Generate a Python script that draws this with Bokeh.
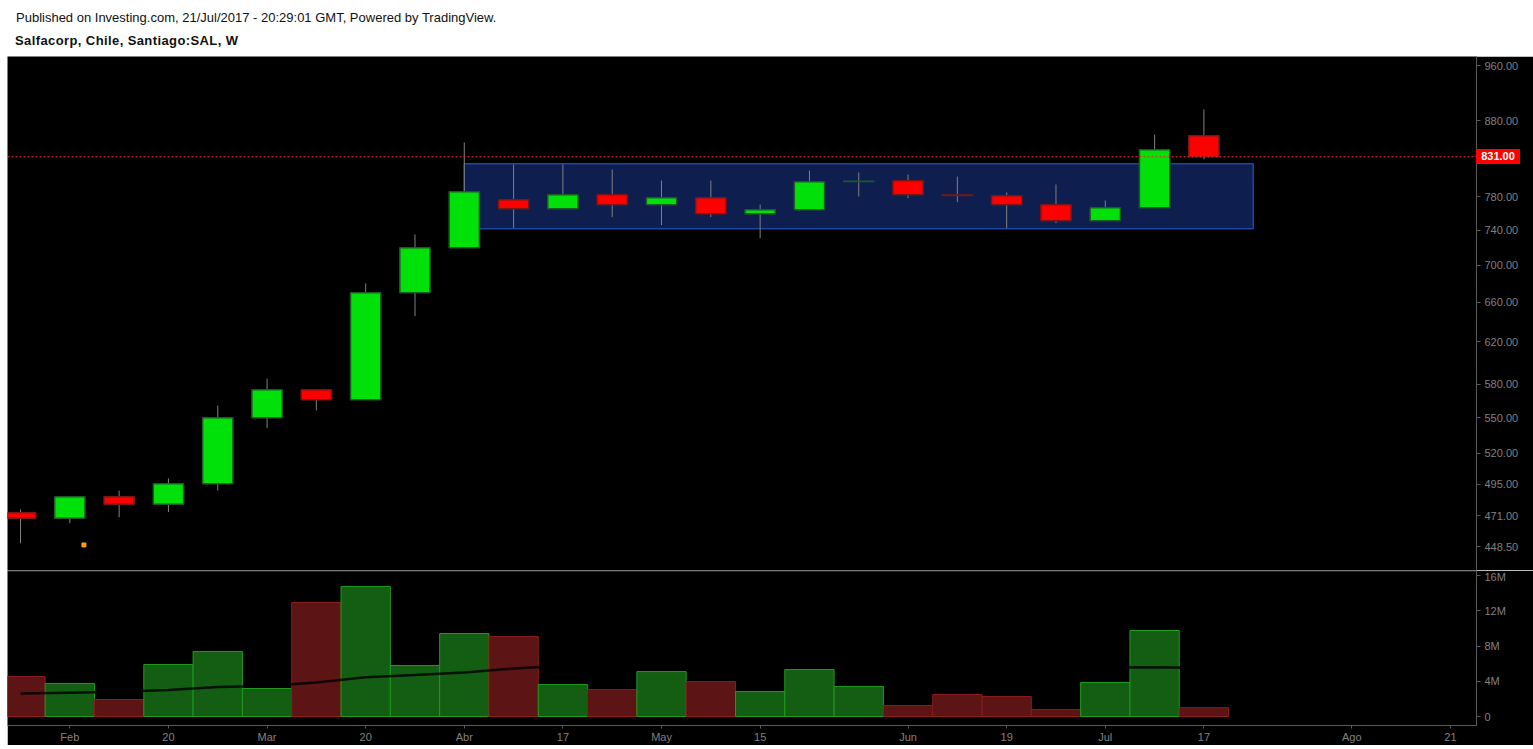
import math
import pandas as pd
from bokeh.plotting import figure
from bokeh.layouts import column, row
from bokeh.models import (Div, Range1d, FixedTicker, PrintfTickFormatter, Span,
                          ColumnDataSource, Spacer)
from bokeh.embed import file_html
from bokeh.resources import INLINE

# ---------------- data ----------------
dates = ["2017-01-30", "2017-02-06", "2017-02-13", "2017-02-20", "2017-02-27",
         "2017-03-06", "2017-03-13", "2017-03-20", "2017-03-27", "2017-04-03",
         "2017-04-10", "2017-04-17", "2017-04-24", "2017-05-01", "2017-05-08",
         "2017-05-15", "2017-05-22", "2017-05-29", "2017-06-05", "2017-06-12",
         "2017-06-19", "2017-06-26", "2017-07-03", "2017-07-10", "2017-07-17"]
opens = [473.1, 469.1, 485.2, 479.5, 495.3, 549.8, 574.7, 565.7, 670.1, 719.4,
         776.2, 765.3, 782.4, 770.1, 778.7, 759.3, 764.1, 799.0, 799.9, 782.2,
         781.2, 770.1, 750.9, 766.5, 858.9]
highs = [475.6, 485.2, 490.0, 499.5, 560.6, 585.0, 574.7, 680.0, 734.8, 849.9,
         820.8, 820.8, 814.3, 800.3, 800.3, 770.5, 813.1, 810.5, 807.9, 805.3,
         785.3, 795.3, 775.4, 860.7, 895.5]
lows = [450.8, 465.4, 469.8, 473.6, 490.0, 540.9, 556.2, 565.7, 645.7, 719.4,
        742.2, 765.3, 755.2, 745.7, 755.2, 730.5, 764.1, 780.3, 778.2, 773.3,
        742.2, 748.1, 750.9, 766.5, 827.7]
closes = [469.1, 485.2, 479.5, 495.3, 549.8, 574.7, 565.7, 670.1, 719.4, 786.1,
          765.3, 782.4, 770.1, 778.7, 759.3, 764.1, 798.7, 799.5, 782.4, 781.6,
          770.1, 750.9, 766.5, 840.1, 831.0]
volumes_m = [4.54, 3.75, 1.93, 5.90, 7.38, 3.18, 12.94, 14.76, 5.79, 9.42,
             9.08, 3.63, 3.06, 5.10, 3.97, 2.84, 5.33, 3.40, 1.25, 2.50,
             2.27, 0.80, 3.86, 9.76, 1.00]
vol_ma_m = [2.6, 2.7, 2.8, 3.0, 3.35, 3.45, 3.85, 4.45, 4.7, 5.0,
            5.45, 5.75, 5.75, 5.75, 5.75, 5.75, 5.75, 5.7, 5.6, 5.6,
            5.6, 5.6, 5.55, 5.6, 5.5]

x_tick_dates = ["2017-02-06", "2017-02-20", "2017-03-06", "2017-03-20", "2017-04-03",
                "2017-04-17", "2017-05-01", "2017-05-15", "2017-06-05", "2017-06-19",
                "2017-07-03", "2017-07-17", "2017-08-07", "2017-08-21"]
x_tick_labels = ["Feb", "20", "Mar", "20", "Abr", "17", "May", "15", "Jun", "19",
                 "Jul", "17", "Ago", "21"]
price_ticks = [448.5, 471, 495, 520, 550, 580, 620, 660, 700, 740, 780, 880, 960]
vol_ticks = [0, 4, 8, 12, 16]
vol_tick_labels = ["0", "4M", "8M", "12M", "16M"]

box_start, box_end = "2017-04-03", "2017-07-24"
box_low, box_high = 741.4, 821.8
event_dates = ["2017-02-08"]
event_prices = [449.6]

header_line1 = "Published on Investing.com, 21/Jul/2017 - 20:29:01 GMT, Powered by TradingView."
header_line2 = "Salfacorp, Chile, Santiago:SAL, W"

# ---------------- helpers ----------------
t0 = pd.Timestamp(dates[0])
def day(d):
    return (pd.Timestamp(d) - t0).total_seconds() / 86400.0

xs = [day(d) for d in dates]
up = [c >= o for o, c in zip(opens, closes)]
GREEN, GREEN_EDGE = "#00e10a", "#1f5a24"
RED, RED_EDGE = "#ff0000", "#7a1616"

src = ColumnDataSource(dict(
    x=xs, open=opens, high=highs, low=lows, close=closes,
    top=[max(o, c) for o, c in zip(opens, closes)],
    bottom=[min(o, c) for o, c in zip(opens, closes)],
    fill=[GREEN if u else RED for u in up],
    edge=[GREEN_EDGE if u else RED_EDGE for u in up],
    vol=volumes_m, ma=vol_ma_m,
    vfill=["#135e12" if u else "#5c1414" for u in up],
    vedge=["#1f9a1f" if u else "#8a1c1c" for u in up],
))

PAGE_W = 1533
LEFT_GAP = 7
W = PAGE_W - LEFT_GAP          # 1526
RB = 57
HEADER_H = 56
PRICE_H = 514
FONT = "Liberation Sans"
AX = "#5a5a5a"
LBL = "#808080"
x_range = Range1d(-1.85, 206.7)
price_range = Range1d(431.8, 973.8)

# last-price tag position in page pixels, derived from the log price scale
_lo, _hi = math.log(price_range.start), math.log(price_range.end)
tag_cy = HEADER_H + (_hi - math.log(closes[-1])) / (_hi - _lo) * PRICE_H
tag_h, tag_w = 15, 44
tag_left = LEFT_GAP + (W - RB)
tag_top = round(tag_cy - tag_h / 2)

# ---------------- header ----------------
header = Div(text=(
    f'<div style="position:relative;width:{PAGE_W}px;height:{HEADER_H}px;background:#fff;'
    f'font-family:\'Liberation Sans\',Arial,sans-serif;color:#111;overflow:visible;">'
    f'<div style="position:absolute;left:16px;top:9px;font-size:13px;white-space:nowrap;">{header_line1}</div>'
    f'<div style="position:absolute;left:15px;top:32px;font-size:13px;font-weight:bold;'
    f'letter-spacing:0.4px;white-space:nowrap;">{header_line2}</div>'
    f'<div style="position:absolute;left:{tag_left}px;top:{tag_top}px;width:{tag_w}px;'
    f'height:{tag_h}px;line-height:{tag_h}px;background:#ff0000;color:#fff;'
    f'font-size:11px;font-weight:bold;text-align:center;z-index:50;">{closes[-1]:.2f}</div>'
    f'</div>'),
    width=PAGE_W, height=HEADER_H, margin=0, styles={"overflow": "visible", "z-index": "50"})

# ---------------- price panel ----------------
p = figure(width=W, height=PRICE_H, y_axis_type="log", x_range=x_range,
           y_range=price_range, output_backend="svg", toolbar_location=None,
           y_axis_location="right", x_axis_location=None,
           background_fill_color="black", border_fill_color="black",
           min_border_left=0, min_border_right=RB, min_border_top=0, min_border_bottom=0,
           outline_line_color=None, margin=0)
p.grid.visible = False
ya = p.yaxis[0]
ya.ticker = FixedTicker(ticks=price_ticks)
ya.formatter = PrintfTickFormatter(format="%.2f")
ya.axis_line_color = AX
ya.major_tick_line_color = AX
ya.minor_tick_line_color = None
ya.major_tick_out = 4
ya.major_tick_in = 0
ya.major_label_standoff = 4
ya.major_label_text_color = LBL
ya.major_label_text_font = FONT
ya.major_label_text_font_size = "11px"

p.quad(left=[day(box_start)], right=[day(box_end)], bottom=[box_low], top=[box_high],
       fill_color="#0d1e4f", line_color="#1f44a8", line_width=1.5)
p.segment(x0="x", y0="low", x1="x", y1="high", source=src, line_color="#808080", line_width=1)
p.vbar(x="x", width=4.3, top="top", bottom="bottom", source=src,
       fill_color="fill", line_color="edge", line_width=1.5)
p.scatter(x=[day(d) for d in event_dates], y=event_prices, marker="square", size=4,
          color="#ff9a00")
p.add_layout(Span(location=closes[-1], dimension="width", line_color="#ff2222",
                  line_dash="2 2", line_width=1))

# ---------------- volume panel ----------------
v = figure(width=W, height=175, x_range=x_range, y_range=Range1d(-1.02, 16.57),
           output_backend="svg", toolbar_location=None, y_axis_location="right",
           background_fill_color="black", border_fill_color="black",
           min_border_left=0, min_border_right=RB, min_border_top=0, min_border_bottom=20,
           outline_line_color=None, margin=0)
v.grid.visible = False
v.vbar(x="x", width=7, top="vol", bottom=0, source=src, fill_color="vfill",
       line_color="vedge", line_width=1)
v.line(x="x", y="ma", source=src, line_color="black", line_alpha=0.8, line_width=2.5)
v.add_layout(Span(location=16.52, dimension="width", line_color=AX, line_width=1))

vy = v.yaxis[0]
vy.ticker = FixedTicker(ticks=vol_ticks)
vy.major_label_overrides = {t: l for t, l in zip(vol_ticks, vol_tick_labels)}
vx = v.xaxis[0]
tick_days = [day(d) for d in x_tick_dates]
vx.ticker = FixedTicker(ticks=tick_days)
vx.major_label_overrides = {t: l for t, l in zip(tick_days, x_tick_labels)}
for ax in (vy, vx):
    ax.axis_line_color = AX
    ax.major_tick_line_color = AX
    ax.minor_tick_line_color = None
    ax.major_tick_out = 4 if ax is vy else 3
    ax.major_tick_in = 0
    ax.major_label_standoff = 4 if ax is vy else 2
    ax.major_label_text_color = LBL
    ax.major_label_text_font = FONT
    ax.major_label_text_font_size = "11px"

charts = column(p, v, spacing=0, margin=0)
layout = column(header, row(Spacer(width=LEFT_GAP, height=689, margin=0), charts,
                            spacing=0, margin=0), spacing=0, margin=0)
open("out.html", "w").write(file_html(layout, INLINE))
